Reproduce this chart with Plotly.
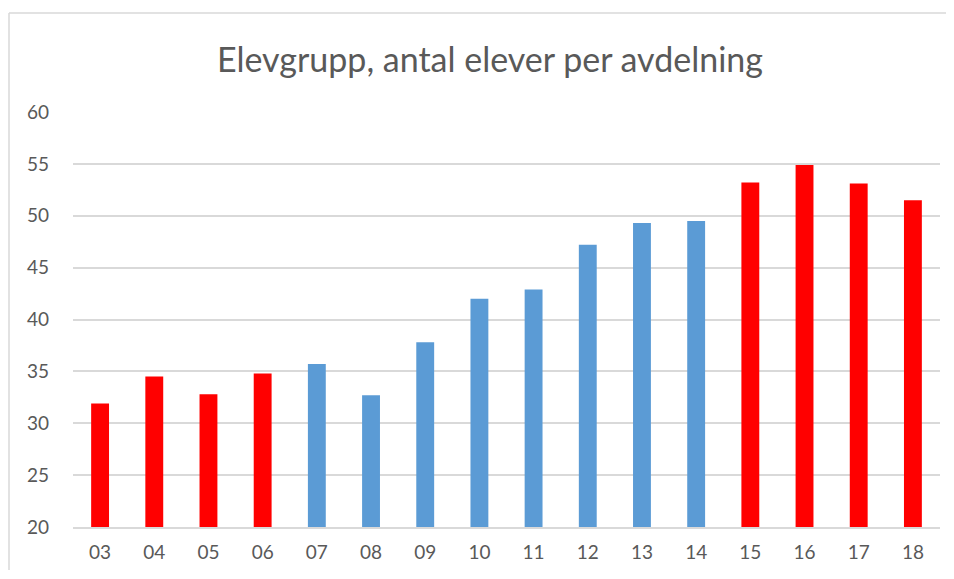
import plotly.graph_objects as go

categories = ["03", "04", "05", "06", "07", "08", "09", "10", "11", "12", "13", "14", "15", "16", "17", "18"]
values = [31.9, 34.5, 32.8, 34.8, 35.7, 32.7, 37.8, 42.0, 42.9, 47.2, 49.3, 49.5, 53.2, 54.9, 53.1, 51.5]
highlighted = ["03", "04", "05", "06", "15", "16", "17", "18"]
y_ticks = [20, 25, 30, 35, 40, 45, 50, 55, 60]

RED = "#ff0000"
BLUE = "#5b9bd5"
colors = [RED if c in highlighted else BLUE for c in categories]

fig = go.Figure(go.Bar(x=categories, y=values, marker=dict(color=colors, line=dict(width=0)), width=0.33))

# page body has an 8px margin; figure coordinates are screen - 8
OFF = 8
W, H = 938, 562
L = 73 - OFF
T = 112 - OFF
R = W - (940 - OFF)
B = H - (527 - OFF)
pw, ph = W - L - R, H - T - B
bx = (9 - OFF - L) / pw
by = 1 + (T - (13 - OFF)) / ph
bx_right = (W - L) / pw
by_bottom = -B / ph

border = dict(color="#d9d9d9", width=1.5)

fig.update_layout(
    width=W, height=H,
    margin=dict(l=L, r=R, t=T, b=B),
    paper_bgcolor="white", plot_bgcolor="white",
    font=dict(family="Lato", color="#595959"),
    title=dict(text="Elevgrupp, antal elever per avdelning", x=(490 - OFF) / W, xanchor="center",
               y=1 - (60 - OFF) / H, yanchor="middle", font=dict(size=34, color="#595959")),
    showlegend=False,
    xaxis=dict(type="category", showline=True, linecolor="#d9d9d9", linewidth=2,
               tickfont=dict(size=19), ticks="", ticklabelstandoff=7, showgrid=False),
    yaxis=dict(range=[20, 60], tickvals=y_ticks, showgrid=True, gridcolor="#d9d9d9", gridwidth=1.5,
               zeroline=False, tickfont=dict(size=19), ticks="", ticklabelstandoff=23),
    shapes=[
        dict(type="line", xref="paper", yref="paper", x0=bx, x1=bx, y0=by_bottom, y1=by, line=border),
        dict(type="line", xref="paper", yref="paper", x0=bx, x1=bx_right, y0=by, y1=by, line=border),
    ],
)

fig.write_html("out.html")
